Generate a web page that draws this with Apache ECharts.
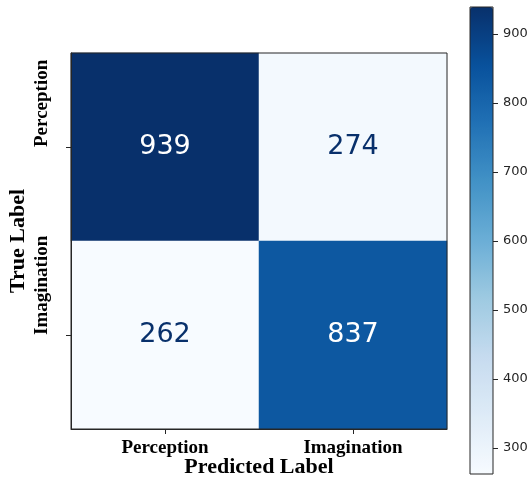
<!DOCTYPE html>
<html>
<head>
<meta charset="utf-8">
<script src="https://cdn.jsdelivr.net/npm/echarts@6/dist/echarts.min.js"></script>
<style>
  html, body { margin: 0; padding: 0; background: #fff; }
  #chart { width: 531px; height: 480px; }
</style>
</head>
<body>
<div id="chart"></div>
<script>
const predictedLabels = ["Perception", "Imagination"];
const trueLabels = ["Perception", "Imagination"];
// rows = true label, columns = predicted label
const counts = [
  [939, 274],
  [262, 837],
];
const colorbarTicks = [300, 400, 500, 600, 700, 800, 900];
const bluesPalette = ["#f7fbff", "#deebf7", "#c6dbef", "#9ecae1", "#6baed6", "#4292c6", "#2171b5", "#08519c", "#08306b"];

const flat = counts.flat();
const vMin = Math.min(...flat);
const vMax = Math.max(...flat);
const thresh = vMax / 2;

const cells = [];
counts.forEach((row, r) => {
  row.forEach((v, c) => {
    cells.push({
      value: [c, r, v],
      label: { color: v > thresh ? "#ffffff" : "#08306b" },
    });
  });
});

const serifBold = { fontFamily: "Liberation Serif", fontWeight: "bold", color: "#000" };
const tickStyle = { color: "#262626", width: 1 };
const lineStyle = { color: "#262626", width: 1 };
const chart = echarts.init(document.getElementById("chart"), null, { renderer: "canvas" });

chart.setOption({
  animation: false,
  grid: [
    { left: 71, top: 53, width: 376, height: 376, outerBoundsMode: "none", containLabel: false, show: true, z: 5, backgroundColor: "transparent", borderColor: "#262626", borderWidth: 1 },
    { left: 470, top: 7, width: 23, height: 467, outerBoundsMode: "none", containLabel: false, show: true, z: 10, backgroundColor: "transparent", borderColor: "#262626", borderWidth: 1 },
  ],
  xAxis: [
    {
      type: "category", gridIndex: 0, data: predictedLabels, z: 12,
      axisLine: { show: true, lineStyle },
      axisTick: { show: true, alignWithLabel: true, length: 5, lineStyle: tickStyle },
      axisLabel: { ...serifBold, fontSize: 19, margin: 10 },
      splitLine: { show: false },
      name: "Predicted Label", nameLocation: "middle", nameGap: 27, nameMoveOverlap: false,
      nameTextStyle: { ...serifBold, fontSize: 22 },
    },
    { type: "category", gridIndex: 1, data: ["cb"], show: false },
  ],
  yAxis: [
    {
      type: "category", gridIndex: 0, data: trueLabels, inverse: true, z: 12,
      axisLine: { show: true, lineStyle },
      axisTick: { show: true, alignWithLabel: true, length: 5, lineStyle: tickStyle },
      axisLabel: { ...serifBold, fontSize: 19, rotate: 90, align: "left", verticalAlign: "middle", margin: 29 },
      splitLine: { show: false },
      name: "True Label", nameLocation: "middle", nameGap: 42, nameMoveOverlap: false,
      nameTextStyle: { ...serifBold, fontSize: 22 },
    },
    {
      type: "value", gridIndex: 1, position: "right", min: vMin, max: vMax, z: 12,
      axisLine: { show: false },
      axisTick: { show: true, length: 5, customValues: colorbarTicks, lineStyle: tickStyle },
      axisLabel: { customValues: colorbarTicks, fontFamily: "DejaVu Sans", fontSize: 13, color: "#262626", margin: 10 },
      splitLine: { show: false },
    },
  ],
  visualMap: {
    type: "continuous", seriesIndex: 0, min: vMin, max: vMax,
    calculable: false, hoverLink: false, orient: "vertical",
    left: 470, top: 7, itemWidth: 23, itemHeight: 467, padding: 0,
    inRange: { color: bluesPalette },
  },
  series: [
    {
      type: "heatmap", xAxisIndex: 0, yAxisIndex: 0, data: cells,
      label: {
        show: true, fontFamily: "DejaVu Sans", fontSize: 27,
        formatter: (p) => String(p.value[2]),
      },
      emphasis: { disabled: true },
    },
  ],
});
</script>
</body>
</html>
